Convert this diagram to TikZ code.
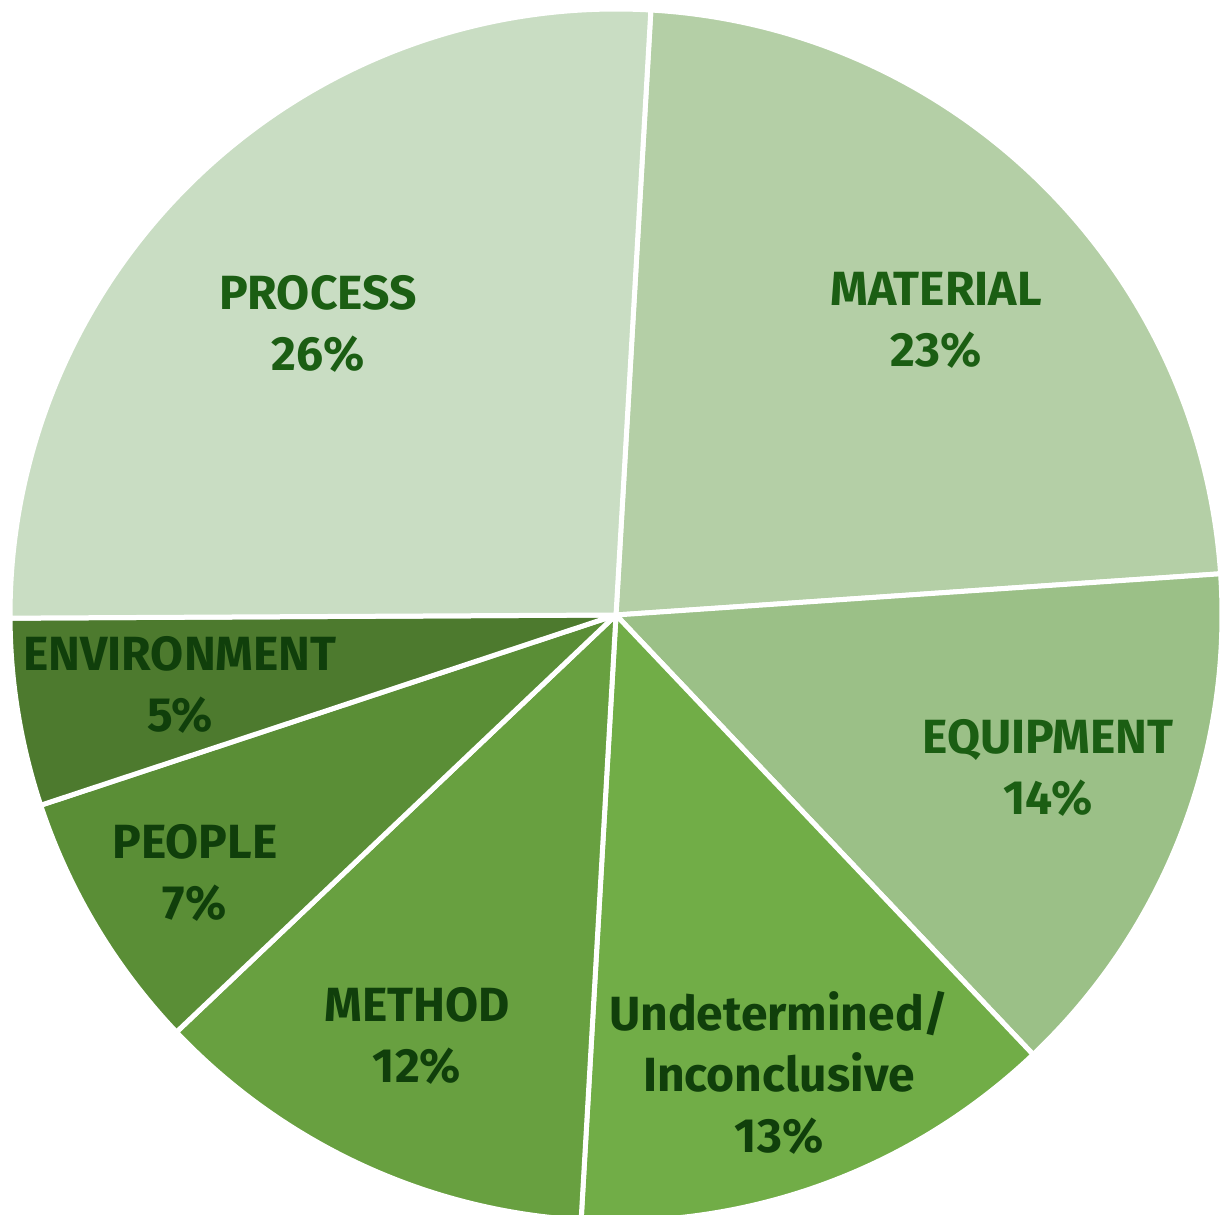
\documentclass[tikz,border=0pt]{standalone}
\usepackage{fontspec}
\setmainfont{Fira Sans}
\definecolor{cProcess}{HTML}{C9DDC3}
\definecolor{cMaterial}{HTML}{B4CFA6}
\definecolor{cEquip}{HTML}{9BC087}
\definecolor{cUndet}{HTML}{71AD47}
\definecolor{cMethod}{HTML}{68A040}
\definecolor{cPeople}{HTML}{5A8E36}
\definecolor{cEnv}{HTML}{4D7A2E}
\definecolor{txtLight}{HTML}{1B5E13}
\definecolor{txtDark}{HTML}{103F0B}
\tikzset{
  slice/.style={draw=white, line width=5pt, line join=round},
  lbl/.style={font=\fontsize{48}{61}\selectfont\bfseries, align=center, inner sep=0pt, text=txtLight},
  lbldark/.style={lbl, text=txtDark}
}
\newcommand{\pieslice}[3]{%
  \filldraw[slice, fill=#1] (C) -- ([shift={(#2:606)}]C) arc[start angle=#2, end angle=#3, radius=606] -- cycle;}
\begin{document}
\begin{tikzpicture}[x=1pt,y=1pt]
\useasboundingbox (0,0) rectangle (1222,1214);
\coordinate (C) at (616,599);
\pieslice{cMaterial}{86.7}{3.9}
\pieslice{cEquip}{3.9}{-46.5}
\pieslice{cUndet}{-46.5}{-93.3}
\pieslice{cMethod}{-93.3}{-136.5}
\pieslice{cPeople}{-136.5}{-161.7}
\pieslice{cEnv}{-161.7}{-179.7}
\pieslice{cProcess}{-179.7}{-273.3}
\node[lbl] (process) at (318,890) {PROCESS\\26\%};
\node[lbl] (material) at (936,894) {MATERIAL\\23\%};
\node[lbl] (equipment) at (1048,446) {EQUIPMENT\\14\%};
\node[lbldark] (undet) at (779,141) {Undetermined/\\Inconclusive\\13\%};
\node[lbldark] (method) at (417,178) {METHOD\\12\%};
\node[lbldark] (people) at (195,341) {PEOPLE\\7\%};
\node[lbldark] (env) at (180,529) {ENVIRONMENT\\5\%};
\end{tikzpicture}
\end{document}
